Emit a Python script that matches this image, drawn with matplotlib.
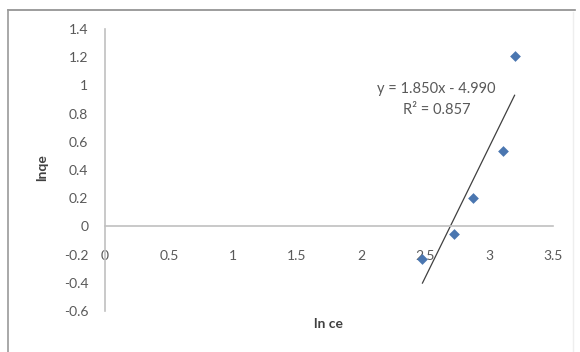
import matplotlib
matplotlib.use("Agg")
import matplotlib.pyplot as plt
import numpy as np

# ln Ce vs ln qe (Freundlich-type linearisation)
ln_ce = [2.48, 2.73, 2.875, 3.11, 3.20]
ln_qe = [-0.233, -0.057, 0.198, 0.537, 1.208]
slope = 1.850
intercept = -4.990
r_squared = 0.857

x_ticks = [0, 0.5, 1, 1.5, 2, 2.5, 3, 3.5]
y_ticks = [-0.6, -0.4, -0.2, 0, 0.2, 0.4, 0.6, 0.8, 1.0, 1.2, 1.4]
x_tick_labels = ["0", "0.5", "1", "1.5", "2", "2.5", "3", "3.5"]
y_tick_labels = ["-0.6", "-0.4", "-0.2", "0", "0.2", "0.4", "0.6", "0.8", "1", "1.2", "1.4"]

plt.rcParams["font.family"] = ["Lato", "DejaVu Sans"]
text_color = "#595959"
axis_color = "#c0c0c0"
fs = 10

W, H = 580, 352
fig = plt.figure(figsize=(W / 100, H / 100), dpi=100)

# outer chart frame
frame = fig.add_axes([0, 0, 1, 1])
frame.set_xlim(0, W)
frame.set_ylim(H, 0)
frame.axis("off")
frame.plot([8, 575], [10, 10], color="#8c8c8c", lw=1.2)
frame.plot([8, 8], [10, 352], color="#9a9a9a", lw=1.2)
frame.plot([573, 573], [12, 352], color="#eeeeee", lw=1.0)

left, right = 105 / W, 553 / W
top, bottom = (H - 29) / H, (H - 311) / H
ax = fig.add_axes([left, bottom, right - left, top - bottom])
ax.set_xlim(0, 3.5)
ax.set_ylim(-0.6, 1.4)
ax.patch.set_alpha(0)

for s in ("top", "right"):
    ax.spines[s].set_visible(False)
ax.spines["left"].set_color(axis_color)
ax.spines["bottom"].set_color(axis_color)
ax.spines["left"].set_linewidth(1.2)
ax.spines["bottom"].set_linewidth(1.2)
ax.spines["bottom"].set_position(("data", 0))

ax.set_xticks(x_ticks)
ax.set_xticklabels(x_tick_labels)
ax.set_yticks(y_ticks)
ax.set_yticklabels(y_tick_labels)
ax.tick_params(axis="x", length=0, pad=17, labelsize=fs, labelcolor=text_color)
ax.tick_params(axis="y", length=0, pad=12, labelsize=fs, labelcolor=text_color)

ax.scatter(ln_ce, ln_qe, marker="D", s=30, color="#4a76b0", zorder=3, linewidths=0)

x_fit = np.array([min(ln_ce), max(ln_ce)])
ax.plot(x_fit, slope * x_fit + intercept, color="#404040", lw=0.9, zorder=2)

ax.text(2.59, 0.90, f"y = {slope:.3f}x - {abs(intercept):.3f}\nR\u00b2 = {r_squared:.3f}",
        ha="center", va="center", fontsize=10.5, color=text_color, linespacing=1.55)

fig.text(42 / W, 1 - 168 / H, "lnqe", rotation=90, ha="center", va="center",
         fontsize=fs, fontweight="bold", color="#404040")
fig.text(329 / W, 1 - 324 / H, "ln ce", ha="center", va="center",
         fontsize=fs, fontweight="bold", color="#404040")

fig.savefig("out.png", dpi=100)
